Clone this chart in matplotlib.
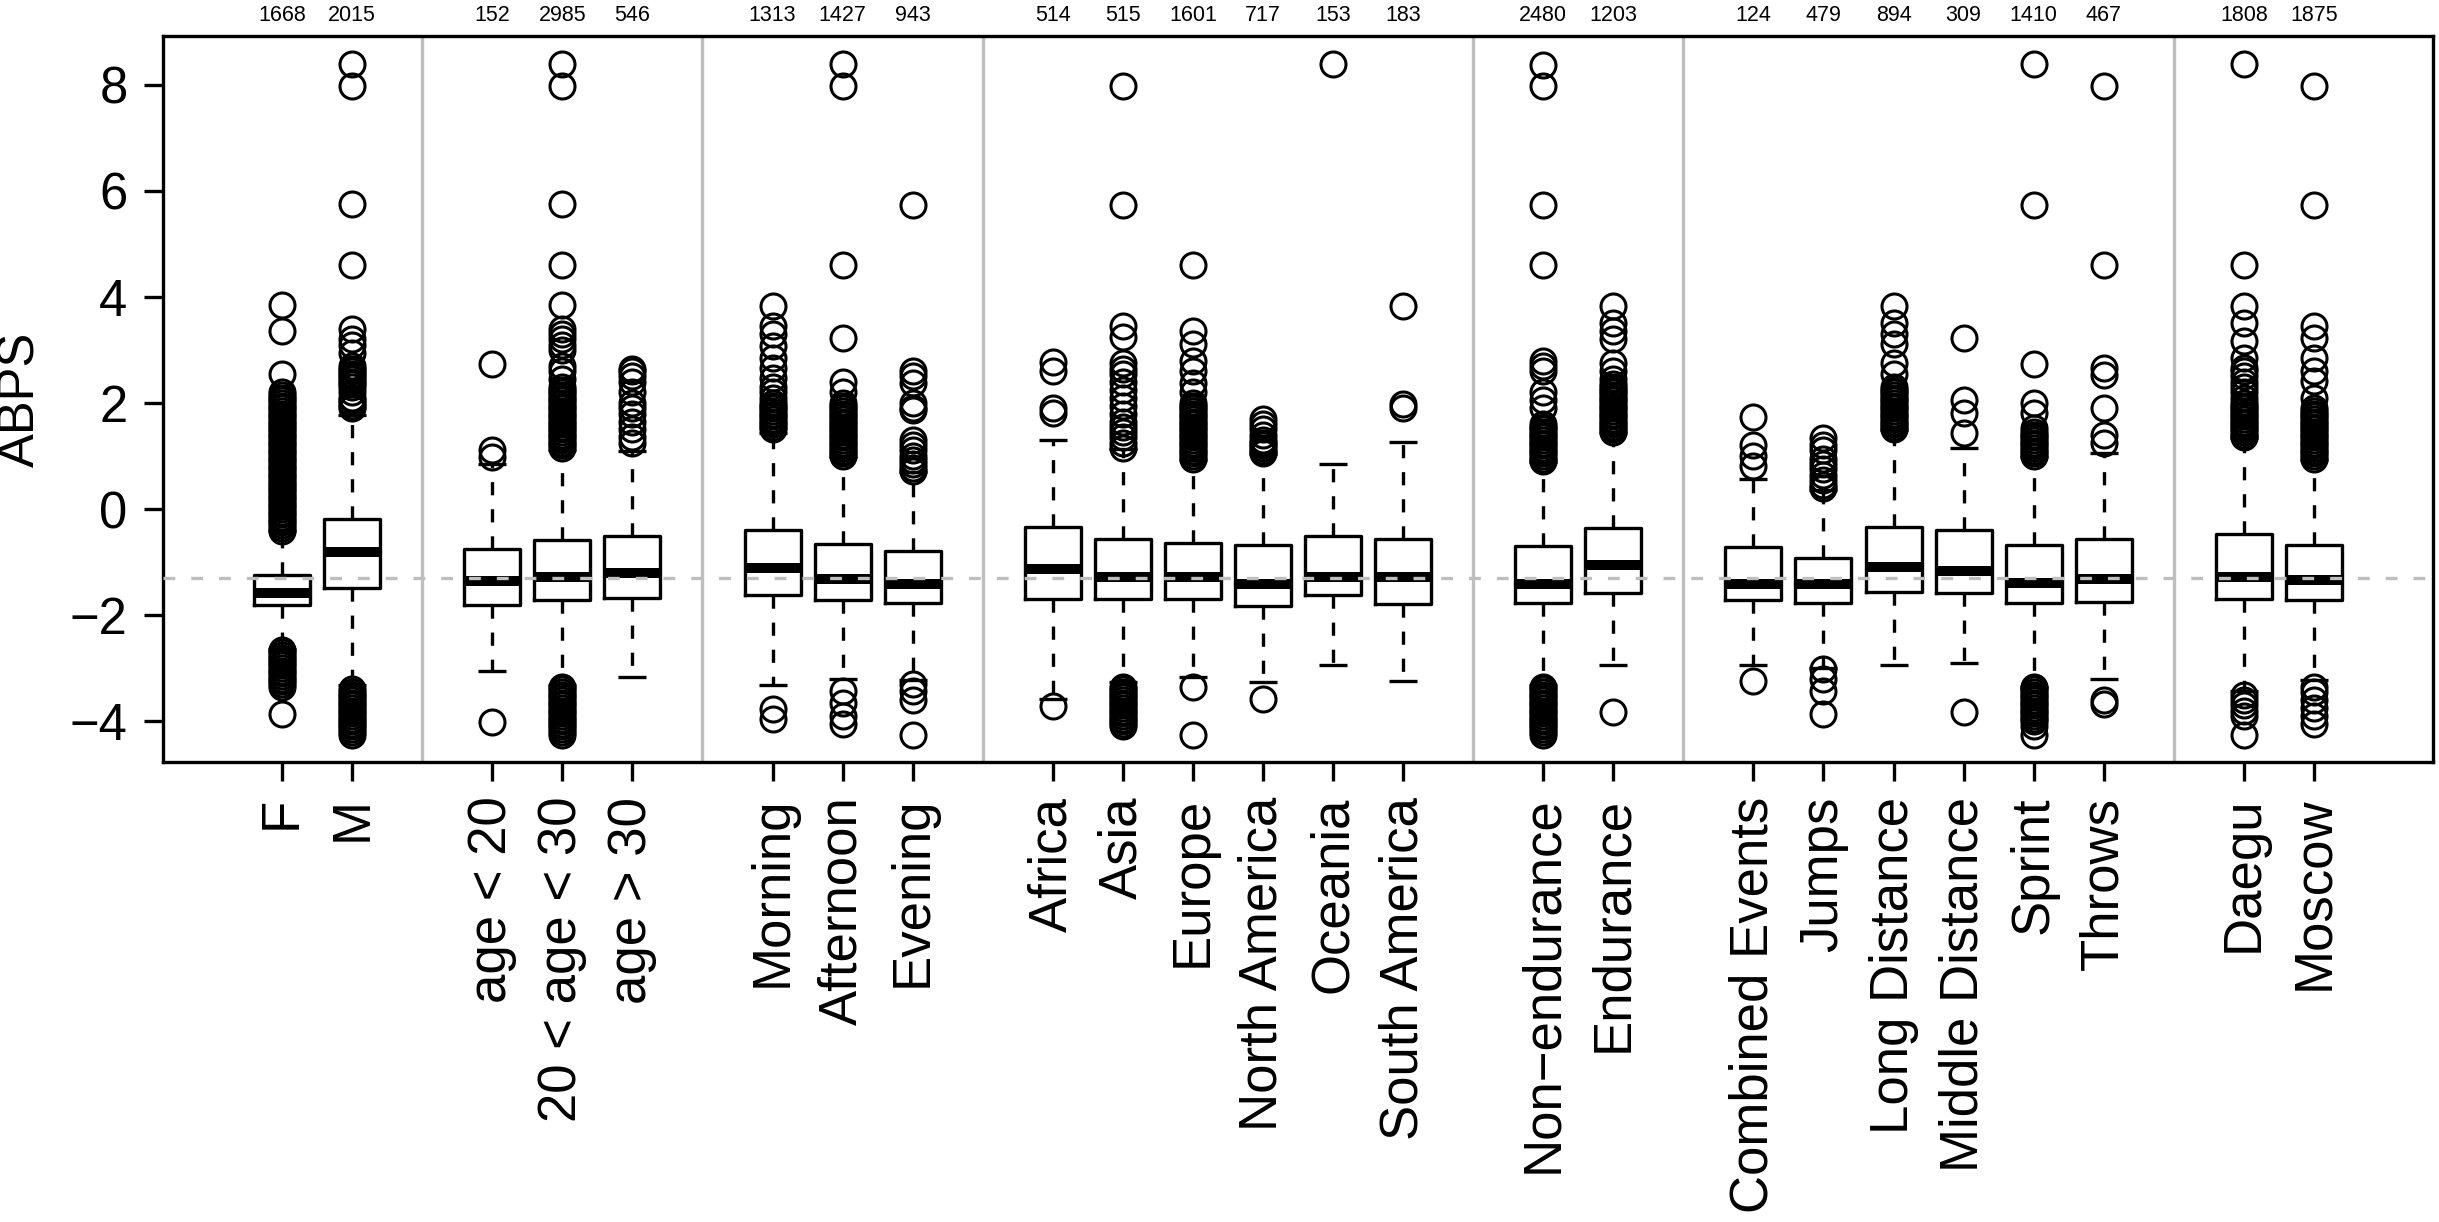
import matplotlib
matplotlib.use("Agg")
import matplotlib.pyplot as plt

plt.rcParams['font.family'] = ['Liberation Sans', 'DejaVu Sans']
plt.rcParams['lines.scale_dashes'] = False

# ---------------- data ----------------
labels = ["F", "M",
          "age < 20", "20 < age < 30", "age > 30",
          "Morning", "Afternoon", "Evening",
          "Africa", "Asia", "Europe", "North America", "Oceania", "South America",
          "Non\u2212endurance", "Endurance",
          "Combined Events", "Jumps", "Long Distance", "Middle Distance", "Sprint", "Throws",
          "Daegu", "Moscow"]
group_sizes = [2, 3, 3, 6, 2, 6, 2]
counts = [1668, 2015, 152, 2985, 546, 1313, 1427, 943, 514, 515, 1601, 717, 153, 183,
          2480, 1203, 124, 479, 894, 309, 1410, 467, 1808, 1875]

med = [-1.58, -0.81, -1.36, -1.28, -1.21, -1.11, -1.31, -1.42, -1.14, -1.28, -1.28, -1.42,
       -1.28, -1.28, -1.41, -1.06, -1.41, -1.42, -1.09, -1.17, -1.40, -1.31, -1.28, -1.33]
q1 = [-1.81, -1.49, -1.81, -1.72, -1.67, -1.63, -1.72, -1.77, -1.70, -1.70, -1.69, -1.82,
      -1.63, -1.80, -1.77, -1.58, -1.72, -1.77, -1.56, -1.58, -1.78, -1.75, -1.70, -1.72]
q3 = [-1.25, -0.18, -0.75, -0.58, -0.50, -0.40, -0.65, -0.79, -0.34, -0.56, -0.64, -0.67,
      -0.51, -0.56, -0.70, -0.36, -0.72, -0.93, -0.34, -0.39, -0.67, -0.56, -0.47, -0.67]
whislo = [-2.64, -3.32, -3.06, -3.32, -3.16, -3.32, -3.21, -3.23, -3.58, -3.27, -3.16, -3.27,
          -2.95, -3.25, -3.32, -2.95, -2.94, -2.99, -2.95, -2.90, -3.35, -3.21, -3.44, -3.23]
whishi = [-0.42, 1.78, 0.85, 1.11, 1.09, 1.44, 0.99, 0.69, 1.30, 1.13, 0.92, 1.03,
          0.85, 1.27, 0.89, 1.44, 0.57, 0.36, 1.49, 1.16, 0.99, 1.06, 1.34, 0.92]

fliers = [
    # F
    [-0.42, -0.35, -0.3, -0.25, -0.2, -0.15, -0.1, -0.05, 0.0, 0.05, 0.1, 0.15, 0.2, 0.25, 0.3,
     0.35, 0.4, 0.45, 0.5, 0.55, 0.6, 0.65, 0.7, 0.75, 0.8, 0.85, 0.9, 0.95, 1.0, 1.05, 1.1,
     1.15, 1.2, 1.25, 1.3, 1.35, 1.4, 1.45, 1.5, 1.55, 1.6, 1.65, 1.7, 1.75, 1.8, 1.85, 1.9,
     1.95, 2.0, 2.05, 2.1, 2.15, 2.2, 2.55, 3.35, 3.85,
     -2.65, -2.7, -2.75, -2.8, -2.85, -2.9, -2.95, -3.0, -3.05, -3.1, -3.15, -3.2, -3.25,
     -3.3, -3.35, -3.86],
    # M
    [1.9, 1.95, 2.0, 2.05, 2.1, 2.2, 2.3, 2.35, 2.4, 2.45, 2.5, 2.55, 2.6, 2.65, 2.7, 2.95,
     3.1, 3.2, 3.4, 4.6, 5.75, 7.98, 8.4,
     -3.4, -3.45, -3.5, -3.55, -3.6, -3.65, -3.7, -3.75, -3.8, -3.85, -3.9, -3.95, -4.0,
     -4.05, -4.1, -4.15, -4.2, -4.26],
    # age < 20
    [0.99, 1.11, 2.73, -4.02],
    # 20 < age < 30
    [1.15, 1.2, 1.25, 1.3, 1.35, 1.4, 1.45, 1.5, 1.55, 1.6, 1.65, 1.7, 1.75, 1.8, 1.85, 1.9,
     1.95, 2.0, 2.05, 2.1, 2.15, 2.2, 2.25, 2.3, 2.45, 2.6, 2.7, 3.0, 3.1, 3.2, 3.3, 3.4,
     3.85, 4.6, 5.75, 7.98, 8.4,
     -3.35, -3.4, -3.45, -3.5, -3.55, -3.6, -3.65, -3.7, -3.75, -3.8, -3.85, -3.9, -3.95,
     -4.0, -4.05, -4.1, -4.15, -4.2, -4.26],
    # age > 30
    [1.25, 1.35, 1.5, 1.65, 1.8, 1.9, 2.0, 2.2, 2.4, 2.5, 2.6, 2.65],
    # Morning
    [1.5, 1.55, 1.6, 1.65, 1.7, 1.75, 1.8, 1.85, 1.9, 1.95, 2.0, 2.1, 2.2, 2.3, 2.47, 2.66,
     2.84, 3.08, 3.31, 3.45, 3.83, -3.77, -3.96],
    # Afternoon
    [1.0, 1.05, 1.1, 1.15, 1.2, 1.25, 1.3, 1.35, 1.4, 1.45, 1.5, 1.55, 1.6, 1.65, 1.7, 1.75,
     1.8, 1.85, 1.9, 1.95, 2.0, 2.2, 2.39, 3.22, 4.6, 7.98, 8.4,
     -3.44, -3.65, -3.91, -4.05],
    # Evening
    [0.72, 0.78, 0.85, 0.92, 1.0, 1.11, 1.2, 1.3, 1.86, 1.91, 2.0, 2.38, 2.5, 2.61, 5.73,
     -3.3, -3.44, -3.61, -4.27],
    # Africa
    [1.82, 1.91, 2.61, 2.77, -3.72],
    # Asia
    [1.15, 1.25, 1.35, 1.45, 1.55, 1.65, 1.8, 1.95, 2.1, 2.25, 2.4, 2.55, 2.65, 2.75, 3.25,
     3.45, 5.73, 7.98,
     -3.35, -3.4, -3.45, -3.5, -3.55, -3.6, -3.65, -3.7, -3.75, -3.8, -3.85, -3.9, -3.95,
     -4.0, -4.05, -4.1],
    # Europe
    [0.95, 1.0, 1.05, 1.1, 1.15, 1.2, 1.25, 1.3, 1.35, 1.4, 1.45, 1.5, 1.55, 1.6, 1.65, 1.7,
     1.75, 1.8, 1.85, 1.9, 1.95, 2.0, 2.2, 2.38, 2.61, 2.8, 3.12, 3.36, 4.6, -3.35, -4.27],
    # North America
    [1.05, 1.1, 1.15, 1.2, 1.25, 1.3, 1.4, 1.5, 1.6, 1.7, -3.58],
    # Oceania
    [8.4],
    # South America
    [1.91, 1.98, 3.83],
    # Non-endurance
    [0.9, 0.95, 1.0, 1.05, 1.1, 1.15, 1.2, 1.25, 1.3, 1.35, 1.4, 1.45, 1.5, 1.55, 1.6, 1.9,
     2.05, 2.2, 2.6, 2.7, 2.8, 4.6, 5.73, 7.98, 8.37,
     -3.35, -3.4, -3.45, -3.5, -3.55, -3.6, -3.65, -3.7, -3.75, -3.8, -3.85, -3.9, -3.95,
     -4.0, -4.05, -4.1, -4.15, -4.2, -4.26],
    # Endurance
    [1.45, 1.5, 1.55, 1.6, 1.65, 1.7, 1.75, 1.8, 1.85, 1.9, 1.95, 2.0, 2.05, 2.1, 2.15, 2.2,
     2.25, 2.3, 2.35, 2.45, 2.6, 2.75, 3.2, 3.35, 3.5, 3.83, -3.83],
    # Combined Events
    [0.81, 1.0, 1.2, 1.73, -3.25],
    # Jumps
    [0.4, 0.45, 0.55, 0.65, 0.75, 0.85, 0.95, 1.11, 1.2, 1.34, -3.02, -3.21, -3.44, -3.86],
    # Long Distance
    [1.5, 1.55, 1.6, 1.65, 1.7, 1.75, 1.8, 1.85, 1.9, 1.95, 2.0, 2.05, 2.1, 2.15, 2.2, 2.25,
     2.3, 2.55, 2.75, 3.12, 3.3, 3.5, 3.83],
    # Middle Distance
    [1.44, 1.81, 2.05, 3.22, -3.83],
    # Sprint
    [1.0, 1.05, 1.1, 1.15, 1.2, 1.25, 1.3, 1.35, 1.4, 1.45, 1.53, 1.81, 2.0, 2.73, 5.73, 8.4,
     -3.35, -3.4, -3.45, -3.5, -3.55, -3.6, -3.65, -3.7, -3.75, -3.8, -3.85, -3.9, -3.95,
     -4.0, -4.1, -4.26],
    # Throws
    [1.25, 1.39, 1.91, 2.52, 2.66, 4.6, 7.98, -3.6, -3.68],
    # Daegu
    [1.35, 1.4, 1.45, 1.5, 1.55, 1.6, 1.65, 1.7, 1.75, 1.8, 1.85, 1.9, 1.95, 2.0, 2.1, 2.2,
     2.3, 2.4, 2.5, 2.6, 2.66, 2.84, 3.17, 3.5, 3.83, 4.6, 8.4,
     -3.5, -3.6, -3.7, -3.8, -3.9, -4.26],
    # Moscow
    [0.95, 1.0, 1.05, 1.1, 1.15, 1.2, 1.25, 1.3, 1.35, 1.4, 1.45, 1.5, 1.55, 1.6, 1.65, 1.7,
     1.75, 1.8, 1.85, 1.9, 2.1, 2.42, 2.61, 2.84, 3.22, 3.45, 5.73, 7.98,
     -3.35, -3.45, -3.6, -3.75, -3.9, -4.05],
]

ref_line = -1.30
yticks = [-4, -2, 0, 2, 4, 6, 8]

# ---------------- layout ----------------
positions = []
separators = []
p = 1
for gi, n in enumerate(group_sizes):
    for k in range(n):
        positions.append(p)
        p += 1
    if gi < len(group_sizes) - 1:
        separators.append(p)
        p += 1

W, H, DPI = 2439, 1222, 100
fig = plt.figure(figsize=(W / DPI, H / DPI), dpi=DPI)
ax = fig.add_axes([163 / W, 1 - 762 / H, (2433 - 163) / W, (762 - 36) / H])

stats = []
for i in range(len(labels)):
    stats.append(dict(med=med[i], q1=q1[i], q3=q3[i], whislo=whislo[i], whishi=whishi[i],
                      fliers=fliers[i], label=labels[i]))

lw = 2.4
ax.bxp(stats, positions=positions, widths=0.8, capwidths=0.4, patch_artist=False,
       showfliers=True,
       boxprops=dict(color='black', linewidth=lw),
       medianprops=dict(color='black', linewidth=7.2, solid_capstyle='butt'),
       whiskerprops=dict(color='black', linewidth=lw, linestyle=(0, (9.5, 10)),
                         dash_capstyle='butt'),
       capprops=dict(color='black', linewidth=lw, solid_capstyle='butt'),
       flierprops=dict(marker='o', markersize=18, markerfacecolor='none',
                       markeredgecolor='black', markeredgewidth=2.2, linestyle='none'))

for s in separators:
    ax.axvline(s, color='#bebebe', linewidth=2.4, zorder=0.5)

ax.axhline(ref_line, color='#bebebe', linewidth=2.4, linestyle=(0, (8.5, 11.5)), zorder=5)

ax.set_xlim(-0.7, 31.7)
ax.set_ylim(-4.77, 8.92)
ax.set_yticks(yticks)
ax.set_yticklabels([str(v).replace('-', '\u2212') for v in yticks])
ax.set_xticks(positions)
ax.set_xticklabels(labels, rotation=90)

ax.tick_params(axis='y', labelsize=36.5, length=14, width=lw, pad=11.5, direction='out')
ax.tick_params(axis='x', labelsize=38, length=14, width=lw, pad=11, direction='out')
for sp in ax.spines.values():
    sp.set_linewidth(lw)

ax.set_ylabel("ABPS", fontsize=36.5)
ax.yaxis.set_label_coords(-0.052, 0.5)

for x, c in zip(positions, counts):
    ax.annotate(str(c), xy=(x, 1), xycoords=('data', 'axes fraction'),
                xytext=(0, 15), textcoords='offset points', ha='center', va='center',
                fontsize=15.5)

fig.savefig("out.png", dpi=DPI)
